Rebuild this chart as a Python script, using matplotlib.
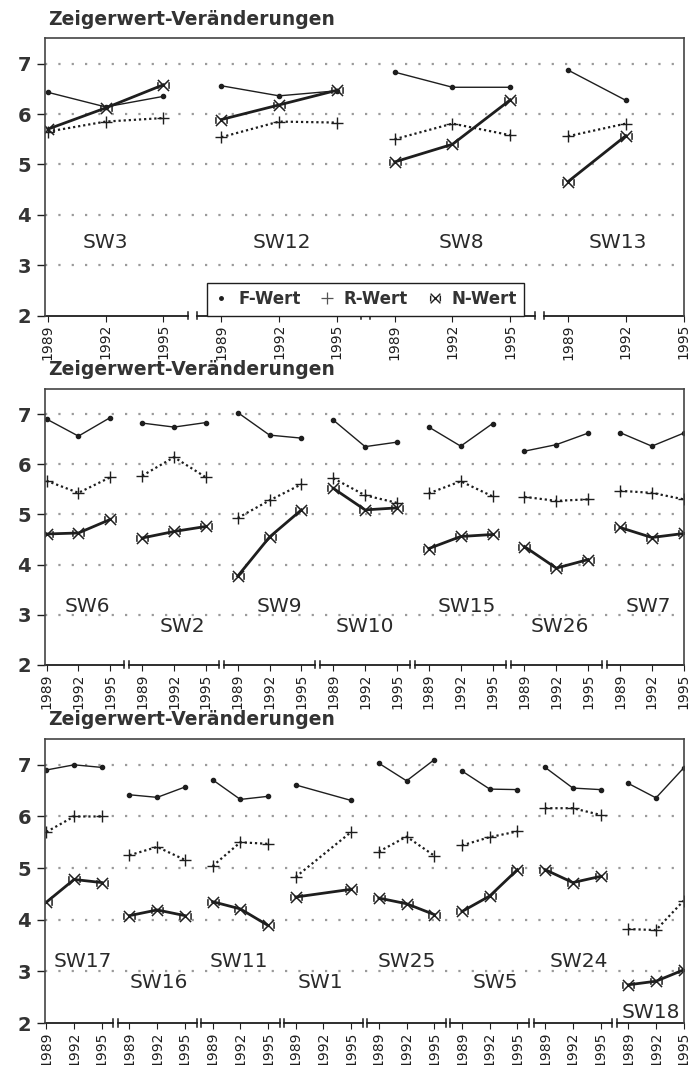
import numpy as np
import matplotlib.pyplot as plt
from matplotlib.path import Path
from matplotlib.lines import Line2D

# Daten: Zeigerwerte 1989 / 1992 / 1995 je Standort
jahre = ['1989', '1992', '1995']

sites1 = ['SW3', 'SW12', 'SW8', 'SW13']
f1 = [6.43, 6.14, 6.35,  6.56, 6.36, 6.46,  6.83, 6.53, 6.53,  6.87, 6.27, None]
r1 = [5.65, 5.85, 5.92,  5.54, 5.85, 5.83,  5.50, 5.81, 5.58,  5.56, 5.81, None]
n1 = [5.70, 6.12, 6.58,  5.89, 6.18, 6.47,  5.05, 5.40, 6.28,  4.66, 5.57, None]

sites2 = ['SW6', 'SW2', 'SW9', 'SW10', 'SW15', 'SW26', 'SW7']
f2 = [6.90, 6.56, 6.93,  6.82, 6.74, 6.83,  7.03, 6.58, 6.52,  6.88, 6.35, 6.44,
      6.74, 6.36, 6.81,  6.26, 6.39, 6.62,  6.63, 6.36, 6.62]
r2 = [5.67, 5.43, 5.74,  5.77, 6.14, 5.74,  4.93, 5.28, 5.60,  5.72, 5.38, 5.23,
      5.42, 5.66, 5.36,  5.35, 5.27, 5.30,  5.47, 5.43, 5.30]
n2 = [4.61, 4.63, 4.90,  4.53, 4.66, 4.76,  3.77, 4.55, 5.09,  5.52, 5.09, 5.13,
      4.32, 4.56, 4.60,  4.36, 3.93, 4.10,  4.74, 4.54, 4.62]

sites3 = ['SW17', 'SW16', 'SW11', 'SW1', 'SW25', 'SW5', 'SW24', 'SW18']
f3 = [6.90, 7.00, 6.95,  6.42, 6.37, 6.57,  6.71, 6.33, 6.39,  6.61, None, 6.31,
      7.03, 6.69, 7.10,  6.88, 6.53, 6.52,  6.95, 6.55, 6.52,  6.64, 6.36, 6.94]
r3 = [5.70, 6.00, 6.00,  5.25, 5.41, 5.16,  5.04, 5.50, 5.47,  4.83, None, 5.70,
      5.32, 5.61, 5.24,  5.44, 5.60, 5.71,  6.16, 6.16, 6.03,  3.82, 3.80, 4.37]
n3 = [4.34, 4.78, 4.72,  4.08, 4.19, 4.08,  4.35, 4.21, 3.89,  4.44, None, 4.59,
      4.42, 4.31, 4.10,  4.16, 4.46, 4.97,  4.97, 4.72, 4.84,  2.74, 2.81, 3.03]

ink = '#1e1e1e'
plt.rcParams['font.family'] = ['DejaVu Sans']

# Marker fuer N-Wert: Kreuz mit seitlichen Strichen
nmark = Path([(-1, -1), (1, 1), (-1, 1), (1, -1), (-1, -0.6), (-1, 0.6), (1, -0.6), (1, 0.6)],
             [Path.MOVETO, Path.LINETO, Path.MOVETO, Path.LINETO,
              Path.MOVETO, Path.LINETO, Path.MOVETO, Path.LINETO])

fig = plt.figure(figsize=(6.92, 10.65), dpi=100)


def panel(rect, sites, f, r, n, lab_dx, lab_y, xmax):
    ax = fig.add_axes(rect)
    npts = len(sites) * 3
    x = np.arange(npts)

    for g in range(len(sites)):
        idx = [i for i in range(3 * g, 3 * g + 3) if i < npts]
        for vals, kw in ((f, dict(color=ink, lw=1.0, marker='o', ms=3)),
                         (r, dict(color=ink, lw=1.6, ls=(0, (1, 1.3)), marker='+', ms=9, mew=1.0)),
                         (n, dict(color=ink, lw=2.0, marker=nmark, ms=8, mew=1.1, mfc='none'))):
            xs = [x[i] for i in idx if vals[i] is not None]
            ys = [vals[i] for i in idx if vals[i] is not None]
            ax.plot(xs, ys, **kw)
        ax.text(3 * g + 1 + lab_dx[g], lab_y[g], sites[g], ha='center', va='center',
                fontsize=14.5, color='#2a2a2a')

        # unterbrochene x-Achse je Standort
        a = max(3 * g - 0.42, -0.05)
        b = min(3 * g + 2.42, xmax)
        ax.plot([a, b], [2, 2], color=ink, lw=1.3, clip_on=False)
        for e in (a, b):
            if -0.05 < e < xmax:
                ax.plot([e, e], [1.93, 2.07], color=ink, lw=1.1, clip_on=False)

    ax.set_xlim(-0.05, xmax)
    ax.set_ylim(2, 7.5)
    ax.set_xticks(x)
    ax.set_xticklabels(jahre * len(sites), rotation=90, fontsize=10, color=ink)
    ax.set_yticks(range(2, 8))
    ax.set_yticklabels([str(v) for v in range(2, 8)], fontsize=14, fontweight='bold', color='#333')
    ax.tick_params(axis='y', length=6, width=1.0, color=ink, pad=4)
    ax.tick_params(axis='x', length=4, width=0.8, color=ink, pad=2)
    for yy in range(3, 8):
        ax.axhline(yy, color='#9a9a9a', lw=1.6, ls=(0, (1, 5)), zorder=0)
    ax.spines['bottom'].set_visible(False)
    for s in ('left', 'top', 'right'):
        ax.spines[s].set_color('#444')
        ax.spines[s].set_linewidth(1.2)
    fig.text(rect[0] + 0.004, rect[1] + rect[3] + 0.009, 'Zeigerwert-Veränderungen',
             fontsize=13.5, fontweight='bold', color='#333', va='bottom')
    return ax


ax1 = panel([0.065, 0.7035, 0.923, 0.2605], sites1, f1, r1, n1,
            [0.0, 0.05, 0.15, -0.14], [3.46] * 4, 11.0)
ax2 = panel([0.065, 0.3756, 0.923, 0.2592], sites2, f2, r2, n2,
            [0.27, 0.25, 0.3, 0.0, 0.2, 0.1, -0.1], [3.17, 2.76] * 3 + [3.17], 20.0)
ax3 = panel([0.065, 0.0394, 0.923, 0.2667], sites3, f3, r3, n3,
            [0.3, 0.07, -0.06, -0.1, 0.0, 0.2, 0.2, -0.2], [3.19, 2.79] * 3 + [3.19, 2.2], 23.0)

handles = [Line2D([], [], ls='none', marker='o', ms=2.5, color=ink),
           Line2D([], [], ls='none', marker='+', ms=9, mew=0.9, color='#555'),
           Line2D([], [], ls='none', marker=nmark, ms=7, mew=1.0, color=ink)]
leg = ax1.legend(handles, ['F-Wert', 'R-Wert', 'N-Wert'], ncol=3, loc='lower left',
                 bbox_to_anchor=(0.254, 0.0), fancybox=False, framealpha=1,
                 edgecolor=ink, fontsize=12, handlelength=0.8, handletextpad=0.6,
                 columnspacing=1.2, borderpad=0.45, borderaxespad=0)
leg.get_frame().set_linewidth(1.0)
for t in leg.get_texts():
    t.set_fontweight('bold')
    t.set_color('#333')

fig.savefig('out.png', dpi=100)
